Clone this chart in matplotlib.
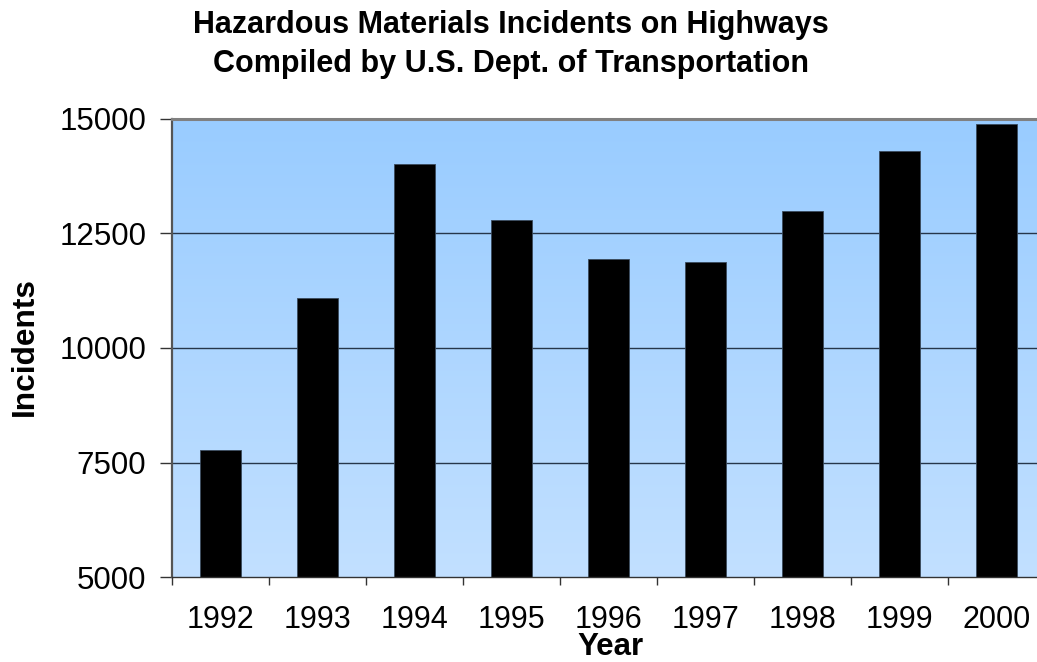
import matplotlib
matplotlib.use("Agg")
import matplotlib.pyplot as plt
import numpy as np

years = ["1992", "1993", "1994", "1995", "1996", "1997", "1998", "1999", "2000"]
incidents = [7780, 11100, 14020, 12790, 11935, 11876, 12987, 14294, 14882]
yticks = [5000, 7500, 10000, 12500, 15000]

plt.rcParams['font.family'] = ['Liberation Sans', 'DejaVu Sans']

W, H = 1037, 662
fig = plt.figure(figsize=(W/100, H/100), dpi=100)
left, right, top, bottom = 172, 1045, 118.7, 577.3
ax = fig.add_axes([left/W, 1-bottom/H, (right-left)/W, (bottom-top)/H])

x = np.arange(len(years))
ax.set_xlim(-0.5, len(years)-0.5)
ax.set_ylim(5000, 15000)

# gradient background
grad = np.linspace(0, 1, 256).reshape(-1, 1)
c_top = np.array([153, 204, 255]) / 255
c_bot = np.array([194, 224, 255]) / 255
img = c_top[None, None, :] * (1-grad[:, :, None]) + c_bot[None, None, :] * grad[:, :, None]
ax.imshow(img, extent=[-0.5, len(years)-0.5, 5000, 15000], aspect='auto', origin='upper', zorder=0)

for yv in yticks[1:-1]:
    ax.axhline(yv, color='#26364a', lw=1.0, zorder=1)

ax.bar(x, incidents, width=0.42, color='black', edgecolor='#3a4a5c', linewidth=0.6, zorder=2)

ax.set_yticks(yticks)
ax.set_yticklabels([str(v) for v in yticks], fontsize=22.5)
ax.set_xticks(x)
ax.set_xticklabels(years, fontsize=22)
ax.set_xticks(np.arange(-0.5, len(years)), minor=True)
ax.tick_params(axis='x', which='major', length=0, pad=20)
ax.tick_params(axis='x', which='minor', length=6, width=1, color='#333333', direction='out')
ax.tick_params(axis='y', which='major', length=8.6, width=1, color='#333333', direction='out', pad=10)

ax.spines['top'].set_color('#808080')
ax.spines['top'].set_linewidth(2.2)
ax.spines['left'].set_color('#555555')
ax.spines['left'].set_linewidth(1.6)
ax.spines['bottom'].set_color('#333333')
ax.spines['bottom'].set_linewidth(1.0)
ax.spines['right'].set_visible(False)

fig.text(25/W, 1-347/H, "Incidents", rotation=90, fontsize=22.8, fontweight='bold', ha='center', va='center')
fig.text(610/W, 0.0, "Year", fontsize=22.5, fontweight='bold', ha='center', va='bottom')
fig.text(511/W, 1-33/H, "Hazardous Materials Incidents on Highways", fontsize=22, fontweight='bold', ha='center', va='baseline')
fig.text(511/W, 1-72/H, "Compiled by U.S. Dept. of Transportation", fontsize=22, fontweight='bold', ha='center', va='baseline')

fig.savefig("out.png", dpi=100)
